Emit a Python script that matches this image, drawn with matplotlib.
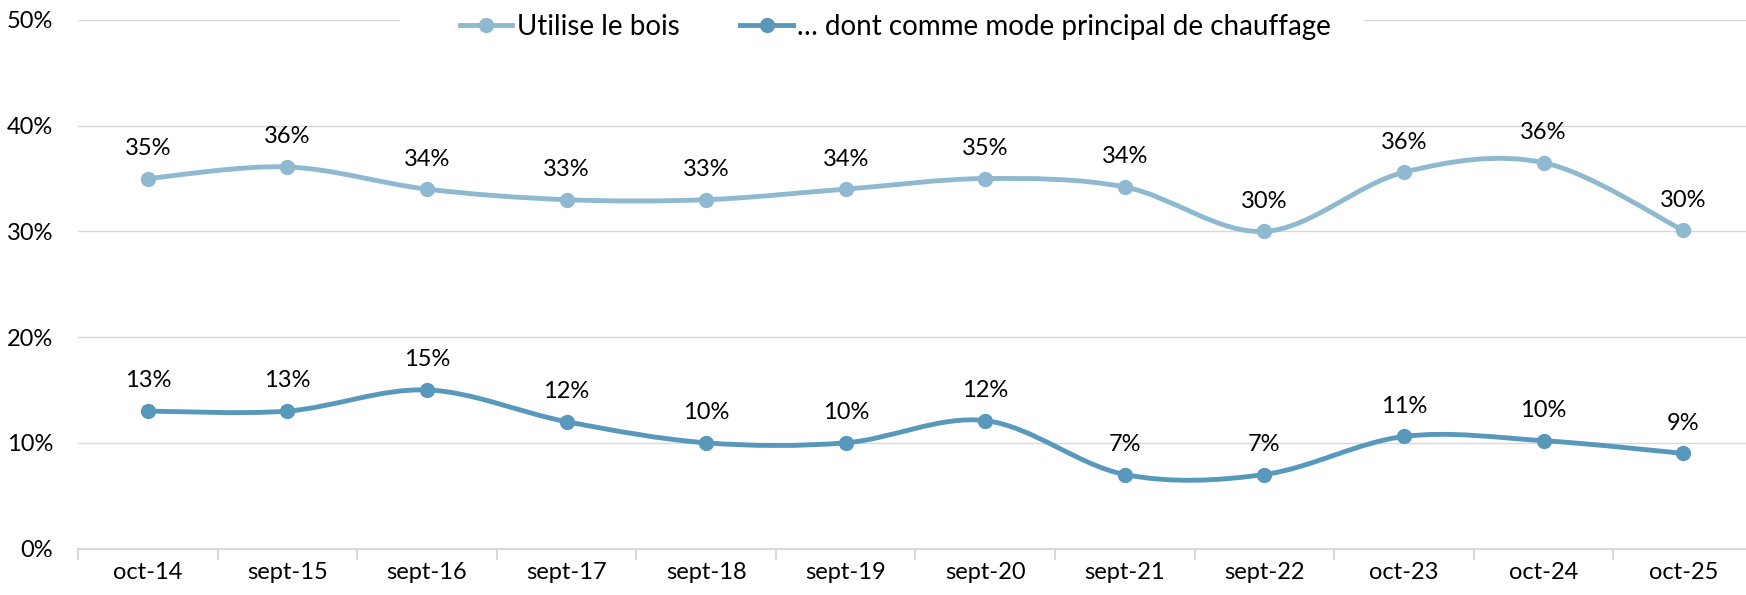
import matplotlib
matplotlib.use("Agg")
import matplotlib.pyplot as plt
from matplotlib.path import Path
from matplotlib.patches import PathPatch, Rectangle
from matplotlib.lines import Line2D
from matplotlib.ticker import FixedLocator, PercentFormatter
import numpy as np

categories = ["oct-14", "sept-15", "sept-16", "sept-17", "sept-18", "sept-19",
              "sept-20", "sept-21", "sept-22", "oct-23", "oct-24", "oct-25"]
bois = [35.0, 36.1, 34.0, 33.0, 33.0, 34.0, 35.0, 34.2, 30.0, 35.6, 36.5, 30.1]
bois_labels = ["35%", "36%", "34%", "33%", "33%", "34%", "35%", "34%", "30%", "36%", "36%", "30%"]
principal = [13.0, 13.0, 15.0, 12.0, 10.0, 10.0, 12.1, 7.0, 7.0, 10.6, 10.2, 9.0]
principal_labels = ["13%", "13%", "15%", "12%", "10%", "10%", "12%", "7%", "7%", "11%", "10%", "9%"]
series_names = ["Utilise le bois", "… dont comme mode principal de chauffage"]
yticks = [0, 10, 20, 30, 40, 50]

c_light = "#8FB9D0"
c_dark = "#5898BA"
grid_c = "#D9D9D9"

plt.rcParams['font.family'] = ['Lato', 'DejaVu Sans']
FS = 17
LFS = 20

W, H = 1746, 595
fig = plt.figure(figsize=(W / 100, H / 100), dpi=100)
left, right = 78 / W, 1753 / W
top, bottom = 1 - 20 / H, 1 - 548.5 / H
ax = fig.add_axes([left, bottom, right - left, top - bottom])


def smooth_path(xs, ys):
    pts = np.column_stack([xs, ys]).astype(float)
    n = len(pts)
    verts = [pts[0]]
    codes = [Path.MOVETO]
    for i in range(n - 1):
        p0 = pts[i - 1] if i > 0 else pts[i]
        p1 = pts[i]
        p2 = pts[i + 1]
        p3 = pts[i + 2] if i + 2 < n else pts[i + 1]
        c1 = p1 + (p2 - p0) / 6.0
        c2 = p2 - (p3 - p1) / 6.0
        verts += [c1, c2, p2]
        codes += [Path.CURVE4] * 3
    return Path(verts, codes)


LW = 3.5
MS = 10
x = np.arange(len(categories))
for vals, labs, col in [(bois, bois_labels, c_light), (principal, principal_labels, c_dark)]:
    patch = PathPatch(smooth_path(x, vals), facecolor="none", edgecolor=col,
                      lw=LW, capstyle="round", joinstyle="round", zorder=3)
    ax.add_patch(patch)
    ax.plot(x, vals, linestyle="none", marker="o", markersize=MS,
            color=col, zorder=4)
    for xi, v, t in zip(x, vals, labs):
        ax.annotate(t, (xi, v), xytext=(0, 17), textcoords="offset points",
                    ha="center", va="baseline", fontsize=FS, color="black")

ax.set_xlim(-0.5, len(categories) - 0.5)
ax.set_ylim(0, 50)
ax.set_yticks(yticks)
ax.yaxis.set_major_formatter(PercentFormatter(decimals=0))
ax.set_xticks(x)
ax.set_xticklabels(categories)
ax.xaxis.set_minor_locator(FixedLocator(np.arange(-0.5, len(categories), 1.0)))

ax.grid(axis="y", color=grid_c, lw=1.0, zorder=0)
ax.set_axisbelow(True)
for s in ["top", "right", "left"]:
    ax.spines[s].set_visible(False)
ax.spines["bottom"].set_color(grid_c)
ax.spines["bottom"].set_linewidth(1.5)

ax.tick_params(axis="y", length=0, pad=18, labelsize=FS, labelcolor="black")
ax.tick_params(axis="x", which="major", length=0, pad=10, labelsize=FS, labelcolor="black")
ax.tick_params(axis="x", which="minor", length=8, width=1.5, color=grid_c, direction="out")

# white legend area (wider than the legend content) hiding the top gridline
ax.add_patch(Rectangle((0.192, 0.94), 0.576, 0.08, transform=ax.transAxes,
                       facecolor="white", edgecolor="none", zorder=2, clip_on=False))

handles = [Line2D([], [], color=c_light, lw=LW, marker="o", markersize=MS),
           Line2D([], [], color=c_dark, lw=LW, marker="o", markersize=MS)]
leg = ax.legend(handles, series_names, loc="center", bbox_to_anchor=(0.488, 1 - 7 / 528.5),
                ncol=2, frameon=True, fontsize=LFS, handlelength=1.9, handletextpad=0.15,
                columnspacing=2.2, borderpad=0.3, borderaxespad=0)
leg.get_frame().set_facecolor("white")
leg.get_frame().set_edgecolor("none")
leg.get_frame().set_alpha(1)
leg.get_frame().set_boxstyle("square", pad=0)

fig.savefig("out.png", dpi=100)
